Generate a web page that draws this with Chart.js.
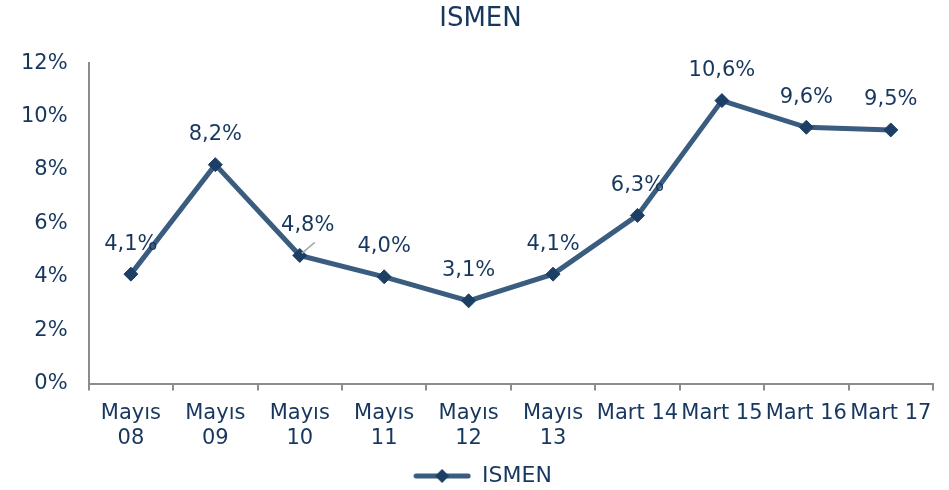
<!DOCTYPE html>
<html>
<head>
<meta charset="utf-8">
<script src="https://cdn.jsdelivr.net/npm/chart.js@4"></script>
<style>
  html, body { margin: 0; padding: 0; background: #fff; }
  #wrap { width: 949px; height: 490px; }
</style>
</head>
<body>
<div id="wrap"><canvas id="chart" width="949" height="490"></canvas></div>
<script>
const categories = [
  ['Mayıs', '08'], ['Mayıs', '09'], ['Mayıs', '10'], ['Mayıs', '11'], ['Mayıs', '12'],
  ['Mayıs', '13'], 'Mart 14', 'Mart 15', 'Mart 16', 'Mart 17'
];
const ismenValues = [4.1, 8.2, 4.8, 4.0, 3.1, 4.1, 6.3, 10.6, 9.6, 9.5];
const yTicks = [0, 2, 4, 6, 8, 10, 12];

const TEXT = '#17375e';
const LINE = '#3a5c7e';
const MARK = '#1d3f66';
const AXIS = '#8c8c8c';
const FONT = '"DejaVu Sans", Verdana, sans-serif';

// legend sample: line with a diamond in the middle
function legendSwatch() {
  const c = document.createElement('canvas');
  c.width = 58; c.height = 16;
  const g = c.getContext('2d');
  g.strokeStyle = LINE; g.lineWidth = 5; g.lineCap = 'round';
  g.beginPath(); g.moveTo(3, 8); g.lineTo(55, 8); g.stroke();
  g.fillStyle = MARK;
  g.beginPath(); g.moveTo(29, 1); g.lineTo(36, 8); g.lineTo(29, 15); g.lineTo(22, 8); g.closePath(); g.fill();
  return c;
}

// title and legend sit a little right of the canvas centre in the original
const nudgeBlocks = {
  id: 'nudgeBlocks',
  afterLayout(chart) {
    if (chart.titleBlock) { chart.titleBlock.left += 14; chart.titleBlock.right += 14; }
    if (chart.legend) { chart.legend.left += 16; chart.legend.right += 16; }
  }
};

const valueLabels = {
  id: 'valueLabels',
  afterDatasetsDraw(chart) {
    const ctx = chart.ctx;
    const meta = chart.getDatasetMeta(0);
    ctx.save();
    ctx.font = '21px ' + FONT;
    ctx.fillStyle = TEXT;
    ctx.textAlign = 'center';
    ctx.textBaseline = 'middle';
    meta.data.forEach((pt, i) => {
      const txt = ismenValues[i].toFixed(1).replace('.', ',') + '%';
      let dx = 0;
      if (i === 2) {
        dx = 8;
        ctx.strokeStyle = '#a6a6a6';
        ctx.lineWidth = 1.5;
        ctx.beginPath();
        ctx.moveTo(pt.x + 2, pt.y - 2);
        ctx.lineTo(pt.x + 15, pt.y - 13);
        ctx.stroke();
      }
      ctx.fillText(txt, pt.x + dx, pt.y - 30);
    });
    ctx.restore();
  }
};

new Chart(document.getElementById('chart'), {
  type: 'line',
  data: {
    labels: categories,
    datasets: [{
      label: 'ISMEN',
      data: ismenValues,
      borderColor: LINE,
      borderWidth: 5,
      backgroundColor: MARK,
      pointStyle: 'rectRot',
      pointRadius: 7,
      pointBackgroundColor: MARK,
      pointBorderColor: MARK,
      pointBorderWidth: 1,
      tension: 0,
      fill: false,
    }],
  },
  options: {
    responsive: false,
    animation: false,
    layout: { padding: { left: 0, right: 16, top: 0, bottom: -7 } },
    plugins: {
      title: {
        display: true,
        text: 'ISMEN',
        color: TEXT,
        font: { family: FONT, size: 26, weight: 'normal' },
        padding: { top: 4, bottom: 28 },
      },
      legend: {
        position: 'bottom',
        labels: {
          color: TEXT,
          font: { family: FONT, size: 22 },
          usePointStyle: true,
          pointStyle: legendSwatch(),
          pointStyleWidth: 58,
          padding: 4,
        },
      },
      tooltip: { enabled: false },
    },
    scales: {
      x: {
        offset: true,
        grid: {
          offset: true,
          drawOnChartArea: false,
          drawTicks: true,
          tickLength: 7,
          color: AXIS,
          lineWidth: 2,
        },
        border: { display: true, color: AXIS, width: 2 },
        ticks: {
          color: TEXT,
          font: { family: FONT, size: 21, lineHeight: 1.2 },
          maxRotation: 0,
          autoSkip: false,
          padding: 10,
        },
      },
      y: {
        min: 0,
        max: 12,
        afterBuildTicks: (axis) => { axis.ticks = yTicks.map((v) => ({ value: v })); },
        grid: { display: false, drawTicks: false },
        border: { display: true, color: AXIS, width: 2 },
        ticks: {
          color: TEXT,
          font: { family: FONT, size: 21 },
          padding: 21,
          callback: (v) => v + '%',
        },
      },
    },
  },
  plugins: [nudgeBlocks, valueLabels],
});
</script>
</body>
</html>
